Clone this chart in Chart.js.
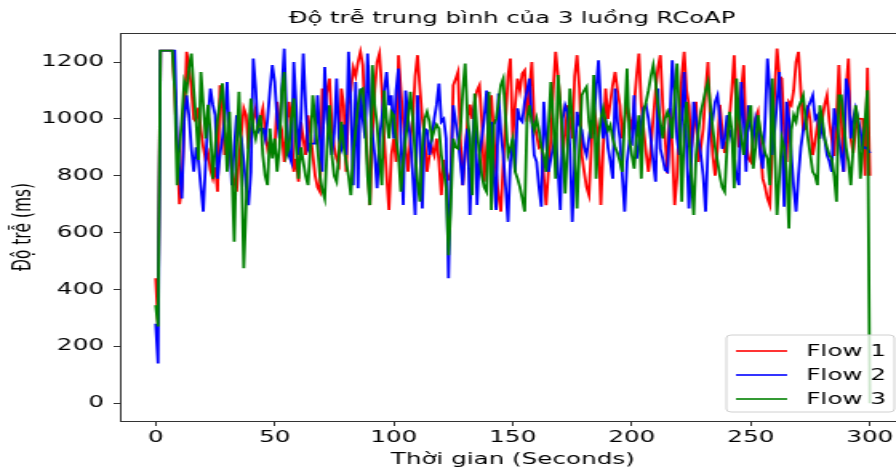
<!DOCTYPE html>
<html>
<head>
<meta charset="utf-8">
<script src="https://cdn.jsdelivr.net/npm/chart.js@4.4.0/dist/chart.umd.min.js"></script>
<style>
  html, body { margin: 0; padding: 0; background: #fff; }
  body { width: 896px; height: 470px; overflow: hidden; }
  /* the reference picture is stretched horizontally, so the chart is drawn narrow and scaled */
  #wrap { width: 640px; height: 470px; transform: scaleX(1.6); transform-origin: 0 0; }
</style>
</head>
<body>
<div id="wrap"><canvas id="chart" width="640" height="470"></canvas></div>
<script>
const title = "Độ trễ trung bình của 3 luồng RCoAP";
const xTitle = "Thời gian (Seconds)";
const yTitle = "Độ trễ (ms)";
const seriesNames = ["Flow 1", "Flow 2", "Flow 3"];
const seriesColors = ["#ff0000", "#0000ff", "#008000"];
const xTicks = [0, 50, 100, 150, 200, 250, 300];
const yTicks = [0, 200, 400, 600, 800, 1000, 1200];

// average delay per second (ms), t = 0..300
const flow1 = [
  440, 280, 1240, 1240, 1240, 1240, 1240, 1240, 1100, 900,
  700, 760, 1000, 1236, 1180, 1107, 1000, 990, 1040, 960,
  900, 856, 880, 820, 790, 830, 744, 1118, 1040, 873,
  931, 900, 820, 780, 744, 860, 950, 1037, 1013, 895,
  966, 1000, 1037, 960, 1000, 1037, 950, 895, 920, 880,
  895, 1060, 990, 960, 849, 960, 1060, 990, 814, 860,
  779, 990, 930, 873, 1013, 950, 873, 800, 760, 744,
  1107, 1050, 1100, 1142, 978, 900, 860, 840, 1107, 1048,
  814, 1048, 1100, 1180, 1150, 1200, 1236, 1189, 990, 850,
  697, 931, 1100, 1200, 1230, 1107, 931, 800, 680, 873,
  931, 849, 1224, 1100, 990, 900, 814, 931, 1000, 1150,
  1224, 1107, 1000, 931, 814, 873, 900, 873, 931, 850,
  732, 856, 800, 790, 814, 1118, 1140, 1165, 931, 767,
  880, 990, 1050, 1000, 1060, 1100, 1118, 990, 779, 900,
  1000, 1083, 950, 814, 730, 674, 850, 1000, 1150, 1212,
  931, 1050, 1142, 1100, 1160, 1171, 990, 1100, 1200, 990,
  943, 900, 910, 800, 697, 820, 931, 1100, 1236, 1150,
  1048, 873, 950, 1048, 1000, 931, 1150, 1224, 1107, 873,
  814, 760, 732, 900, 1048, 990, 931, 697, 900, 1107,
  1000, 1060, 1120, 1165, 1100, 1048, 931, 1000, 1048, 1000,
  966, 1050, 1150, 1230, 1048, 960, 880, 814, 895, 1000,
  1100, 1180, 1224, 1048, 930, 808, 1037, 900, 697, 800,
  1000, 1150, 1236, 1100, 1048, 895, 960, 1060, 849, 900,
  966, 1100, 1200, 1000, 873, 800, 900, 1050, 960, 880,
  930, 1000, 1100, 1224, 1000, 900, 1100, 1189, 931, 860,
  849, 931, 1000, 1025, 900, 790, 760, 720, 697, 900,
  1100, 1247, 1150, 1142, 960, 849, 1060, 1048, 1100, 1200,
  1236, 1100, 960, 966, 1048, 990, 873, 920, 980, 950,
  1000, 1050, 1083, 990, 931, 870, 1000, 1189, 1000, 814,
  1100, 1212, 931, 880, 960, 1000, 1001, 1000, 800, 1180,
  800
];
const flow2 = [
  280, 140, 1240, 1240, 1240, 1240, 1240, 1240, 1240, 931,
  820, 720, 1000, 1083, 1013, 895, 814, 900, 850, 760,
  674, 850, 1000, 1107, 1050, 1013, 790, 873, 931, 1000,
  1130, 931, 767, 900, 1013, 960, 931, 850, 760, 697,
  814, 1212, 1107, 955, 966, 966, 931, 1000, 1100, 1189,
  1130, 1000, 931, 1100, 1247, 1000, 873, 849, 1200, 1048,
  873, 1000, 1230, 1048, 895, 913, 913, 913, 1083, 931,
  814, 1182, 1000, 931, 873, 950, 1142, 931, 900, 980,
  873, 1236, 1048, 767, 1130, 756, 1107, 1000, 931, 1230,
  1048, 950, 873, 756, 931, 1000, 1100, 1165, 1048, 1083,
  931, 1100, 1177, 931, 697, 1100, 1000, 931, 800, 662,
  1083, 931, 685, 966, 960, 873, 931, 1000, 1050, 1124,
  990, 1000, 931, 440, 814, 1048, 990, 931, 850, 767,
  900, 966, 662, 900, 1048, 697, 873, 931, 1000, 1100,
  931, 990, 800, 680, 1089, 950, 873, 760, 638, 850,
  931, 814, 1037, 1000, 990, 1060, 1100, 1142, 1000, 873,
  849, 760, 691, 1060, 930, 814, 860, 900, 950, 820,
  680, 1000, 1048, 1025, 900, 638, 850, 1025, 978, 960,
  900, 873, 931, 990, 1000, 1100, 1206, 1048, 931, 1000,
  900, 850, 790, 1107, 990, 931, 800, 674, 850, 920,
  913, 1083, 860, 900, 990, 1040, 1048, 1000, 931, 850,
  779, 1107, 895, 860, 820, 814, 1000, 1206, 1083, 931,
  873, 1000, 1165, 900, 685, 850, 1060, 1000, 931, 873,
  800, 674, 900, 1013, 1000, 1060, 1083, 1000, 895, 931,
  1013, 960, 931, 873, 800, 767, 1130, 1000, 814, 1048,
  966, 931, 1000, 960, 873, 825, 1000, 1212, 1100, 873,
  960, 1060, 1165, 931, 691, 1060, 1000, 873, 760, 674,
  800, 900, 960, 1000, 1040, 1060, 1083, 1000, 1013, 931,
  980, 930, 873, 850, 814, 1037, 980, 931, 870, 814,
  1142, 1100, 931, 1000, 1037, 1000, 960, 895, 900, 895,
  880
];
const flow3 = [
  345, 270, 1240, 1240, 1240, 1240, 1240, 1240, 1100, 767,
  895, 1000, 1130, 1100, 1180, 1230, 1100, 990, 856, 1165,
  1048, 931, 1050, 950, 790, 900, 1000, 1060, 1125, 1000,
  814, 1025, 814, 568, 900, 1095, 850, 475, 700, 931,
  1072, 966, 931, 978, 1013, 873, 800, 767, 966, 861,
  931, 814, 900, 1100, 1165, 873, 900, 1000, 1072, 900,
  790, 900, 850, 800, 767, 900, 1083, 990, 900, 800,
  750, 720, 900, 1048, 873, 800, 779, 880, 990, 900,
  850, 800, 732, 880, 960, 1050, 1100, 1107, 990, 800,
  697, 1189, 1048, 980, 860, 767, 1100, 1000, 931, 1025,
  1013, 930, 870, 744, 850, 931, 1000, 1095, 1000, 873,
  780, 709, 900, 1000, 1025, 990, 931, 960, 980, 966,
  873, 814, 760, 521, 700, 931, 900, 895, 960, 1100,
  1195, 1000, 931, 732, 1089, 960, 873, 800, 760, 744,
  1095, 680, 978, 1000, 1060, 1120, 1142, 1000, 873, 900,
  931, 814, 790, 760, 720, 674, 1000, 1048, 990, 960,
  1001, 960, 900, 873, 814, 960, 1130, 1000, 790, 1154,
  1048, 931, 738, 900, 1107, 1000, 880, 685, 900, 1083,
  1100, 1113, 990, 931, 1154, 790, 931, 1000, 1037, 990,
  960, 978, 931, 900, 880, 850, 814, 1000, 1177, 931,
  873, 825, 931, 1013, 790, 1025, 1060, 1100, 1150, 1189,
  1130, 1048, 990, 931, 1000, 1025, 1000, 931, 1080, 1195,
  1000, 709, 960, 1060, 931, 800, 662, 873, 960, 1025,
  1060, 1100, 1130, 1048, 966, 900, 850, 800, 760, 744,
  900, 1025, 960, 756, 1142, 1000, 931, 873, 960, 1000,
  1048, 825, 900, 1013, 960, 920, 880, 860, 767, 1142,
  900, 662, 800, 931, 900, 814, 615, 960, 1013, 990,
  1040, 1060, 1083, 1000, 931, 873, 814, 800, 767, 1048,
  1000, 931, 900, 873, 860, 800, 709, 1083, 1083, 990,
  900, 850, 767, 900, 1048, 1000, 790, 900, 1000, 1101,
  0
];

const seconds = flow1.map((_, i) => i);
const toPoints = vals => vals.map((v, i) => ({ x: seconds[i], y: v }));
const allSeries = [flow1, flow2, flow3];

const FONT = "'DejaVu Sans', sans-serif";
Chart.defaults.font.family = FONT;
Chart.defaults.color = "#000";

// title, full axes frame and matplotlib style legend
const decorations = {
  id: "decorations",
  afterDraw(chart) {
    const { ctx, chartArea: a } = chart;
    ctx.save();
    ctx.strokeStyle = "#333";
    ctx.lineWidth = 1;
    ctx.strokeRect(a.left + 0.5, a.top + 0.5, a.right - a.left, a.bottom - a.top);

    ctx.fillStyle = "#000";
    ctx.font = "15.2px " + FONT;
    ctx.textAlign = "center";
    ctx.textBaseline = "middle";
    ctx.fillText(title, chart.width / 2, 19);

    // legend, lower right inside the axes
    const w = 105, h = 77;
    const x = a.right - 7 - w, y = a.bottom - 9 - h;
    ctx.fillStyle = "rgba(255,255,255,0.8)";
    ctx.strokeStyle = "#d0d0d0";
    ctx.beginPath();
    ctx.roundRect(x, y, w, h, 3);
    ctx.fill();
    ctx.stroke();
    ctx.font = "15.4px " + FONT;
    ctx.textAlign = "left";
    seriesNames.forEach((name, i) => {
      const ly = y + 16 + i * 24;
      ctx.strokeStyle = seriesColors[i];
      ctx.lineWidth = 1.6;
      ctx.beginPath();
      ctx.moveTo(x + 6, ly);
      ctx.lineTo(x + 38, ly);
      ctx.stroke();
      ctx.fillStyle = "#000";
      ctx.fillText(name, x + 50, ly + 1);
    });
    ctx.restore();
  }
};

new Chart(document.getElementById("chart"), {
  type: "line",
  data: {
    datasets: allSeries.map((vals, i) => ({
      label: seriesNames[i],
      data: toPoints(vals),
      borderColor: seriesColors[i],
      borderWidth: 1.8,
      pointRadius: 0,
      tension: 0,
      fill: false,
      order: allSeries.length - i
    }))
  },
  options: {
    responsive: false,
    animation: false,
    events: [],
    layout: { padding: { top: 33, right: 74, left: 0, bottom: 0 } },
    plugins: {
      legend: { display: false },
      tooltip: { enabled: false }
    },
    scales: {
      x: {
        type: "linear",
        min: -15,
        max: 315,
        afterBuildTicks: s => { s.ticks = xTicks.map(v => ({ value: v })); },
        afterFit: s => { s.height = 49; },
        grid: { drawOnChartArea: false, tickLength: 5, tickColor: "#333" },
        border: { display: false },
        ticks: { padding: 3, font: { size: 15.4 }, maxRotation: 0, callback: v => String(v) },
        title: { display: true, text: xTitle, font: { size: 15.4 }, padding: { top: 0, bottom: 1 } }
      },
      y: {
        min: -62,
        max: 1302,
        afterBuildTicks: s => { s.ticks = yTicks.map(v => ({ value: v })); },
        afterFit: s => { s.width = 75; },
        grid: { drawOnChartArea: false, tickLength: 4, tickColor: "#333" },
        border: { display: false },
        ticks: { padding: 6, font: { size: 15.4 }, callback: v => String(v) },
        title: { display: true, text: yTitle, font: { size: 15.4 }, padding: { top: 6, bottom: 0 } }
      }
    }
  },
  plugins: [decorations]
});
</script>
</body>
</html>
